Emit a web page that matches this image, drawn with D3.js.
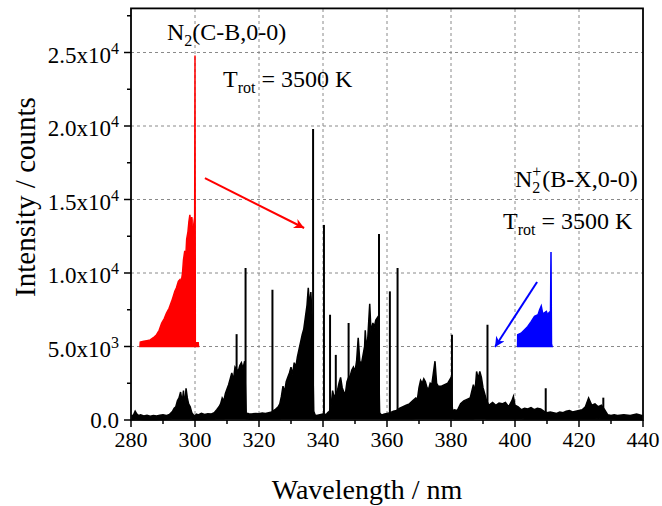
<!DOCTYPE html>
<html><head><meta charset="utf-8">
<script src="https://cdn.jsdelivr.net/npm/d3@7"></script>
<style>
html,body{margin:0;padding:0;background:#fff;}
svg text{font-family:"Liberation Serif","DejaVu Serif",serif;fill:#000;}
</style></head>
<body><svg id="chart" width="662" height="506" font-family="Liberation Serif, DejaVu Serif, serif"></svg>
<script>
// ---- data ----
const xTicks = [280,300,320,340,360,380,400,420,440];
const xMinor = [290,310,330,350,370,390,410,430];
const yTicks = [0,5000,10000,15000,20000,25000];
const yMinor = [2500,7500,12500,17500,22500,27500];
const yTickMant = ["0.0","5.0","1.0","1.5","2.0","2.5"];
const yTickExp  = ["","3","4","4","4","4"];

// main (black) spectrum envelope: wavelength, upper, lower
const specWl = [280.3,280.8,281.3,281.7,282.3,283,284,285,286,287,288,289,290,291,292,293,293.5,294,294.5,295,295.5,296,296.4,296.8,297.2,297.6,298,298.5,299,299.5,300,300.5,301,302,303,304,305,306,306.8,307.5,308,308.5,309,309.5,310,310.5,311,311.5,312,312.5,313.5,314,314.5,315,315.5,316,316.5,317,318,319,320,321,322,323,324,325,326,326.5,327,327.5,328,328.5,329,329.5,330,330.5,331,331.5,332,332.5,333,333.5,334,334.5,335,335.4,335.8,336.2,336.6,337.1,337.5,338,339,340,341,341.5,342,342.5,343,343.5,344,344.5,345,345.5,346,346.5,347,347.5,348,348.5,349,349.5,350,350.5,351,351.5,352,352.5,353,353.2,353.6,354,354.6,355,355.6,356,356.5,357.1,357.7,358,358.5,359,360,361,362,363,364,365,366,367,368,369,369.5,370,370.5,371,371.5,372,372.5,373,373.5,374,374.5,375,375.5,376,377,378,379,379.8,380.5,381,382,383,384,385,386,387,387.5,388,388.5,389,389.5,390,390.5,391,391.8,393,394,395,396,397,398,399,399.5,400,401,402,403,404,405,406,407,408,409,410,411,412,413,414,415,416,417,418,419,420,421,422,423,424,425,426,427,428,429,430,431,432,434,436,438,439.7];
const specHi = [300,350,600,450,300,350,280,320,260,300,280,320,350,300,380,600,800,900,1300,1500,1900,1200,2000,900,2150,1500,1100,900,500,350,300,400,350,450,380,420,400,500,700,900,1100,1500,1300,1800,2100,2400,2800,3200,2700,3600,3300,3700,3900,3500,4000,400,450,400,420,450,430,480,450,500,550,700,900,1100,1600,2300,1900,2600,2900,3200,3600,3100,3900,3600,4300,4800,5300,5800,6200,7000,7800,9000,7700,8700,7000,600,350,300,350,400,380,500,600,900,2000,1500,1800,2000,2500,2900,2200,1900,1800,2600,2900,3000,3400,3600,3300,4000,5600,4000,3800,4400,5000,6100,4800,5600,7900,6000,6600,6300,6800,7000,500,400,350,400,450,500,600,650,800,900,1000,1100,1300,1500,1400,2200,2700,2500,2800,2600,2200,2100,2500,2400,3200,4000,2500,2300,2300,2400,2500,2800,600,700,650,1100,1300,1400,1500,2400,1900,3300,2800,3300,2900,2200,1800,1400,1000,1200,1000,1150,1100,1200,900,1300,1600,1000,900,700,800,750,850,700,800,750,600,500,550,500,450,550,500,600,650,550,600,650,700,900,1500,1000,1100,900,1000,700,350,300,350,300,350,300,400,300];
const specLo = [50,50,60,60,50,50,40,50,40,50,
  40,50,55,50,60,80,80,90,90,90,
  100,90,100,90,100,90,90,80,60,50,
  50,60,50,60,50,60,60,70,80,90,
  90,90,90,100,100,110,110,110,110,110,
  110,110,110,110,110,80,80,70,70,80,
  80,80,80,80,80,90,90,90,100,100,
  100,110,110,110,110,110,110,110,110,110,
  110,110,110,110,110,110,110,110,110,90,
  80,80,80,80,80,90,90,100,100,100,
  100,100,110,110,110,110,110,110,110,110,
  110,110,110,110,110,110,110,110,110,110,
  110,110,110,110,110,110,110,110,110,90,
  80,80,80,80,80,80,90,90,90,90,
  90,100,100,100,100,110,110,110,110,110,
  110,110,110,110,110,110,110,110,110,110,
  110,80,80,80,90,90,90,90,100,100,
  100,100,100,100,100,90,90,80,80,80,
  80,80,80,80,80,80,80,80,70,70,
  70,70,70,70,70,70,60,60,60,60,
  60,60,60,60,60,60,60,60,60,60,
  70,80,70,70,70,70,70,50,50,50,
  50,50,50,50,50];

// narrow lines of the black spectrum
const lineWl = [313.0,315.8,324.2,336.9,340.3,342.2,344.0,348.0,357.5,360.9,363.3,380.3,391.4,409.6,427.6];
const lineI  = [5840,10340,8860,19800,13270,7160,4430,6600,12650,8750,10340,5800,6480,2160,1520];

// simulated N2(C-B,0-0), offset by 5000 counts (red)
const redWl = [282.8,282.9,284,285,286,287,288,288.8,289.6,290.4,291.1,291.9,292.7,293.2,293.7,294.2,294.8,295.3,295.6,295.8,296.1,296.4,296.8,297.1,297.4,297.8,298.1,298.4,298.7,299.0,299.1,299.2,299.35,299.6,299.9,300.0,300.1,300.3,300.4,301.0,301.1];
const redI  = [5000,5300,5350,5400,5450,5600,5800,6100,6590,6900,7270,7600,8070,8400,8750,9000,9430,9550,9300,9550,10000,10900,11500,11000,12300,12800,13500,13950,13300,13800,13600,5600,12000,13300,13800,24800,5200,5000,5250,5250,5000];

// simulated N2+(B-X,0-0), offset by 5000 counts (blue)
const blueWl = [400.8,400.85,401.9,403,404,405.1,406.1,407.2,407.7,408.2,408.7,409.1,409.8,410.3,410.6,411.1,411.25,411.4,411.6];
const blueI  = [5000,5800,5900,6140,6360,6700,7050,7160,7500,7750,7200,7270,7390,7100,7300,7400,11430,5200,5000];

// annotations (data coordinates)
const redArrow  = [[303.1,16460],[334.1,13060]];
const blueArrow = [[406.9,9390],[393.75,4970]];

// ---- chart ----
const FONT = "Liberation Serif, DejaVu Serif, serif";
const svg = d3.select("#chart");
const x = d3.scaleLinear().domain([280,440]).range([131,643]);
const y = d3.scaleLinear().domain([0,28000]).range([420,8.4]);

// grid
const grid = svg.append("g").attr("stroke","#8a8a8a").attr("stroke-width",1).attr("stroke-dasharray","3,3");
xTicks.slice(1,-1).forEach(v=>grid.append("line").attr("x1",x(v)).attr("x2",x(v)).attr("y1",y(0)).attr("y2",y(28000)));
yTicks.slice(1).forEach(v=>grid.append("line").attr("x1",x(280)).attr("x2",x(440)).attr("y1",y(v)).attr("y2",y(v)));

// black spectrum
const specData = specWl.map((w,i)=>({w,hi:specHi[i],lo:specLo[i]}));
svg.append("path").datum(specData)
  .attr("d", d3.area().x(d=>x(d.w)).y0(d=>y(d.lo)).y1(d=>y(d.hi)))
  .attr("fill","#000").attr("stroke","#000").attr("stroke-width",1.5).attr("stroke-linejoin","miter");
svg.append("g").selectAll("line").data(lineWl).join("line")
  .attr("x1",d=>x(d)).attr("x2",d=>x(d)).attr("y1",y(150)).attr("y2",(d,i)=>y(lineI[i]))
  .attr("stroke","#000").attr("stroke-width",2);

// red / blue simulated spectra
function fillSpec(wl, I, color){
  const data = wl.map((w,i)=>({w,v:I[i]}));
  svg.append("path").datum(data)
    .attr("d", d3.area().x(d=>x(d.w)).y0(y(5000)).y1(d=>y(d.v)))
    .attr("fill",color).attr("stroke",color).attr("stroke-width",1.5);
}
fillSpec(redWl, redI, "#ff0000");
fillSpec(blueWl, blueI, "#0000ff");

// arrows
const defs = svg.append("defs");
[["ah-red","#ff0000"],["ah-blue","#0000ff"]].forEach(([id,c])=>{
  defs.append("marker").attr("id",id).attr("viewBox","0 0 10 10").attr("refX",10).attr("refY",5)
    .attr("markerWidth",6).attr("markerHeight",5).attr("markerUnits","strokeWidth").attr("orient","auto")
    .append("path").attr("d","M0,0 L10,5 L0,10 L3,5 Z").attr("fill",c);
});
function arrow(pts,c,id){
  svg.append("line").attr("x1",x(pts[0][0])).attr("y1",y(pts[0][1])).attr("x2",x(pts[1][0])).attr("y2",y(pts[1][1]))
    .attr("stroke",c).attr("stroke-width",2).attr("marker-end",`url(#${id})`);
}
arrow(redArrow,"#ff0000","ah-red");
arrow(blueArrow,"#0000ff","ah-blue");

// frame
svg.append("rect").attr("x",x(280)).attr("y",y(28000)).attr("width",x(440)-x(280)).attr("height",y(0)-y(28000))
  .attr("fill","none").attr("stroke","#000").attr("stroke-width",1.8);

// ticks
const tk = svg.append("g").attr("stroke","#000").attr("stroke-width",1.5);
xTicks.forEach(v=>tk.append("line").attr("x1",x(v)).attr("x2",x(v)).attr("y1",y(0)).attr("y2",y(0)+7));
xMinor.forEach(v=>tk.append("line").attr("x1",x(v)).attr("x2",x(v)).attr("y1",y(0)).attr("y2",y(0)+4));
yTicks.forEach(v=>tk.append("line").attr("x1",x(280)-7).attr("x2",x(280)).attr("y1",y(v)).attr("y2",y(v)));
yMinor.forEach(v=>tk.append("line").attr("x1",x(280)-4).attr("x2",x(280)).attr("y1",y(v)).attr("y2",y(v)));

// tick labels
xTicks.forEach(v=>svg.append("text").attr("font-family",FONT).attr("x",x(v)).attr("y",447).attr("text-anchor","middle")
  .attr("font-size",22).text(v));
yTicks.forEach((v,i)=>{
  const t = svg.append("text").attr("font-family",FONT).attr("x",x(280)-12).attr("text-anchor","end").attr("font-size",23);
  if(yTickExp[i]){
    t.attr("y",y(v)+10);
    t.append("tspan").text(yTickMant[i]+"x10");
    t.append("tspan").attr("dy",-9).attr("font-size",16).text(yTickExp[i]);
  } else {
    t.attr("y",y(v)+8).text(yTickMant[i]);
  }
});

// axis titles
svg.append("text").attr("font-family",FONT).attr("x",367).attr("y",499).attr("text-anchor","middle")
  .attr("font-size",28).text("Wavelength / nm");
svg.append("text").attr("font-family",FONT).attr("transform","translate(35,197) rotate(-90)").attr("text-anchor","middle")
  .attr("font-size",29).text("Intensity / counts");

// annotation labels
function label(px,py,main,sub,rest){
  const t = svg.append("text").attr("font-family",FONT).attr("x",px).attr("y",py).attr("font-size",24);
  t.append("tspan").text(main);
  t.append("tspan").attr("dy",6).attr("font-size",16).text(sub);
  t.append("tspan").attr("dy",-6).text(rest);
  return t;
}
label(x(291.25),y(25850),"N","2","(C-B,0-0)");
label(x(308.75),y(22650),"T","rot"," = 3500 K");
label(x(396.25),y(12990),"T","rot"," = 3500 K");
// N2+ with stacked super/subscript
{
  const px = x(400), py = y(15850);
  const t = svg.append("text").attr("font-family",FONT).attr("x",px).attr("y",py).attr("font-size",24);
  const n = t.append("tspan").text("N");
  const nw = n.node().getComputedTextLength();
  t.append("tspan").attr("x",px+nw).attr("dy",-10).attr("font-size",16).text("+");
  t.append("tspan").attr("x",px+nw).attr("dy",16).attr("font-size",16).text("2");
  t.append("tspan").attr("x",px+nw+10).attr("dy",-6).text("(B-X,0-0)");
}
</script></body></html>
